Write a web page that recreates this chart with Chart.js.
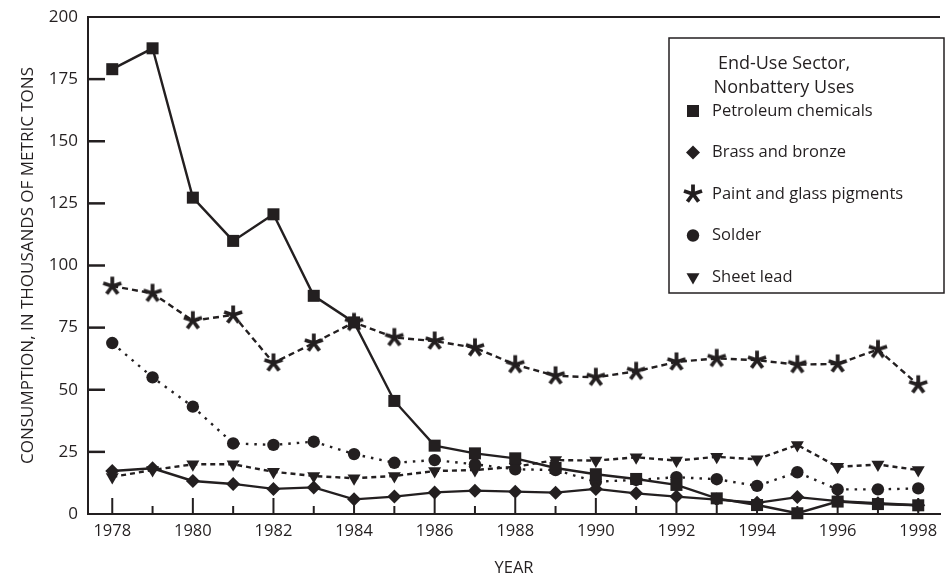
<!DOCTYPE html>
<html>
<head>
<meta charset="utf-8">
<script src="https://cdn.jsdelivr.net/npm/chart.js@4"></script>
<style>
  html, body { margin: 0; padding: 0; background: #fff; }
  #wrap { width: 949px; height: 587px; }
</style>
</head>
<body>
<div id="wrap"><canvas id="leadChart" width="949" height="587"></canvas></div>
<script>
// consumption, thousands of metric tons
const years = [1978, 1979, 1980, 1981, 1982, 1983, 1984, 1985, 1986, 1987, 1988,
               1989, 1990, 1991, 1992, 1993, 1994, 1995, 1996, 1997, 1998];
const petroleum = [179, 187.4, 127.3, 109.9, 120.6, 87.8, 77.1, 45.5, 27.5, 24.4, 22.4,
                   18.5, 16, 14.1, 11.7, 6.3, 3.6, 0.3, 5, 4, 3.5];
const brass = [17.3, 18.4, 13.3, 12.1, 10.1, 10.7, 5.9, 7.0, 8.7, 9.4, 9.0,
               8.6, 10.1, 8.3, 7.0, 5.8, 4.5, 6.8, 5.2, 4.3, 3.5];
const paint = [91.7, 88.8, 77.8, 80.1, 60.8, 68.8, 77.1, 71.0, 69.6, 66.9, 60.1,
               55.6, 55.0, 57.4, 61.2, 62.6, 61.9, 60.1, 60.4, 66.2, 52.0];
const solder = [68.8, 55.0, 43.2, 28.4, 27.8, 29.1, 24.1, 20.6, 21.7, 20.0, 18.0,
                17.7, 13.0, 13.7, 14.8, 14.0, 11.3, 16.8, 9.9, 9.9, 10.3];
const sheetLead = [14.9, 17.7, 20.0, 20.0, 17.0, 15.3, 14.4, 15.3, 17.3, 17.7, 19.0,
                   21.7, 21.5, 22.8, 21.5, 23.0, 22.0, 27.8, 19.0, 19.9, 17.7];
const yTickValues = [0, 25, 50, 75, 100, 125, 150, 175, 200];
const xTickLabels = [1978, 1980, 1982, 1984, 1986, 1988, 1990, 1992, 1994, 1996, 1998];

const INK = '#231f20';
const FONT = '"Open Sans", "Noto Sans", sans-serif';

// five-armed asterisk used as the marker for paint and glass pigments
function makeAsterisk(size, arm, width) {
  const c = document.createElement('canvas');
  c.width = c.height = size;
  const g = c.getContext('2d');
  g.strokeStyle = INK;
  g.lineWidth = width;
  const m = size / 2;
  for (let k = 0; k < 5; k++) {
    const a = -Math.PI / 2 + k * 2 * Math.PI / 5;
    g.beginPath();
    g.moveTo(m, m);
    g.lineTo(m + Math.cos(a) * arm, m + Math.sin(a) * arm);
    g.stroke();
  }
  return c;
}
const asterisk = makeAsterisk(24, 9.5, 3.8);

function series(label, values, style) {
  return Object.assign({
    label,
    data: years.map((yr, i) => ({ x: yr, y: values[i] })),
    borderColor: INK,
    backgroundColor: INK,
    pointBackgroundColor: INK,
    pointBorderColor: INK,
    pointBorderWidth: 0,
    borderWidth: 2.4,
    tension: 0,
    clip: false
  }, style);
}

const datasets = [
  series('Petroleum chemicals', petroleum, { pointStyle: 'rect', pointRadius: 8.5 }),
  series('Brass and bronze', brass, { pointStyle: 'rectRot', pointRadius: 7 }),
  series('Paint and glass pigments', paint, { pointStyle: asterisk, pointRadius: 9, borderDash: [6, 4] }),
  series('Solder', solder, { pointStyle: 'circle', pointRadius: 6.2, borderDash: [2.5, 6] }),
  series('Sheet lead', sheetLead, { pointStyle: 'triangle', pointRotation: 180, pointRadius: 7.5, borderDash: [5, 4] })
];

function line(ctx, x1, y1, x2, y2) {
  ctx.beginPath();
  ctx.moveTo(x1, y1);
  ctx.lineTo(x2, y2);
  ctx.stroke();
}

// inside tick marks and the top frame line
const frameTicks = {
  id: 'frameTicks',
  beforeDatasetsDraw(chart) {
    const { ctx, chartArea: a, scales: { x, y } } = chart;
    ctx.save();
    ctx.strokeStyle = INK;
    ctx.lineWidth = 2;
    line(ctx, a.left, a.top, a.right, a.top);
    ctx.lineWidth = 2.5;
    yTickValues.slice(1, -1).forEach(v => {
      const py = y.getPixelForValue(v);
      line(ctx, a.left, py, a.left + 17, py);
    });
    ctx.lineWidth = 2;
    years.forEach(yr => {
      const px = x.getPixelForValue(yr);
      line(ctx, px, a.bottom, px, a.bottom - (yr % 2 === 0 ? 16 : 8));
    });
    ctx.restore();
  }
};

// boxed legend in the upper right
const boxLegend = {
  id: 'boxLegend',
  afterDraw(chart) {
    const ctx = chart.ctx;
    ctx.save();
    ctx.fillStyle = '#fff';
    ctx.fillRect(669, 38, 275, 255);
    ctx.strokeStyle = INK;
    ctx.lineWidth = 1.5;
    ctx.strokeRect(669, 38, 275, 255);
    ctx.fillStyle = INK;
    ctx.textBaseline = 'middle';
    ctx.textAlign = 'center';
    ctx.font = '18px ' + FONT;
    ctx.fillText('End-Use Sector,', 784, 64);
    ctx.fillText('Nonbattery Uses', 784, 88);
    ctx.textAlign = 'left';
    ctx.font = '16.5px ' + FONT;
    chart.data.datasets.forEach((ds, i) => {
      const yy = 111 + i * 41.5;
      if (ds.pointStyle instanceof HTMLCanvasElement) {
        ctx.drawImage(ds.pointStyle, 693 - ds.pointStyle.width / 2, yy - ds.pointStyle.height / 2);
      } else {
        ctx.fillStyle = INK;
        Chart.helpers.drawPoint(ctx, {
          pointStyle: ds.pointStyle,
          radius: ds.pointRadius,
          rotation: ds.pointRotation || 0,
          borderWidth: 0
        }, 693, yy);
      }
      ctx.fillStyle = INK;
      ctx.fillText(ds.label, 712, yy);
    });
    ctx.restore();
  }
};

new Chart(document.getElementById('leadChart'), {
  type: 'line',
  data: { datasets },
  plugins: [frameTicks, boxLegend],
  options: {
    responsive: false,
    animation: false,
    devicePixelRatio: 1,
    layout: { padding: { top: 17, right: 0, bottom: 0, left: 0 } },
    plugins: { legend: { display: false }, tooltip: { enabled: false } },
    scales: {
      x: {
        type: 'linear',
        min: 1977.398,
        max: 1998.54,
        grid: { display: false, drawTicks: false },
        border: { display: true, color: INK, width: 2 },
        afterBuildTicks: s => { s.ticks = xTickLabels.map(v => ({ value: v })); },
        afterFit: s => { s.height = 73; s.paddingLeft = 0; s.paddingRight = 0; },
        ticks: {
          color: INK, font: { size: 16.5, family: FONT }, padding: 7,
          maxRotation: 0, autoSkip: false,
          callback: v => String(v)
        },
        title: {
          display: true, text: 'YEAR', color: INK,
          font: { size: 16.5, family: FONT }, padding: { top: 0, bottom: 9 }
        }
      },
      y: {
        min: 0,
        max: 200,
        grid: { display: false, drawTicks: false },
        border: { display: true, color: INK, width: 2 },
        afterBuildTicks: s => { s.ticks = yTickValues.map(v => ({ value: v })); },
        afterFit: s => { s.width = 88; s.paddingTop = 0; s.paddingBottom = 0; },
        ticks: {
          color: INK, font: { size: 17, family: FONT }, padding: 10,
          callback: v => String(v)
        },
        title: {
          display: true, text: 'CONSUMPTION, IN THOUSANDS OF METRIC TONS', color: INK,
          font: { size: 17, family: FONT }, padding: { top: 18, bottom: 0 }
        }
      }
    }
  }
});
</script>
</body>
</html>
